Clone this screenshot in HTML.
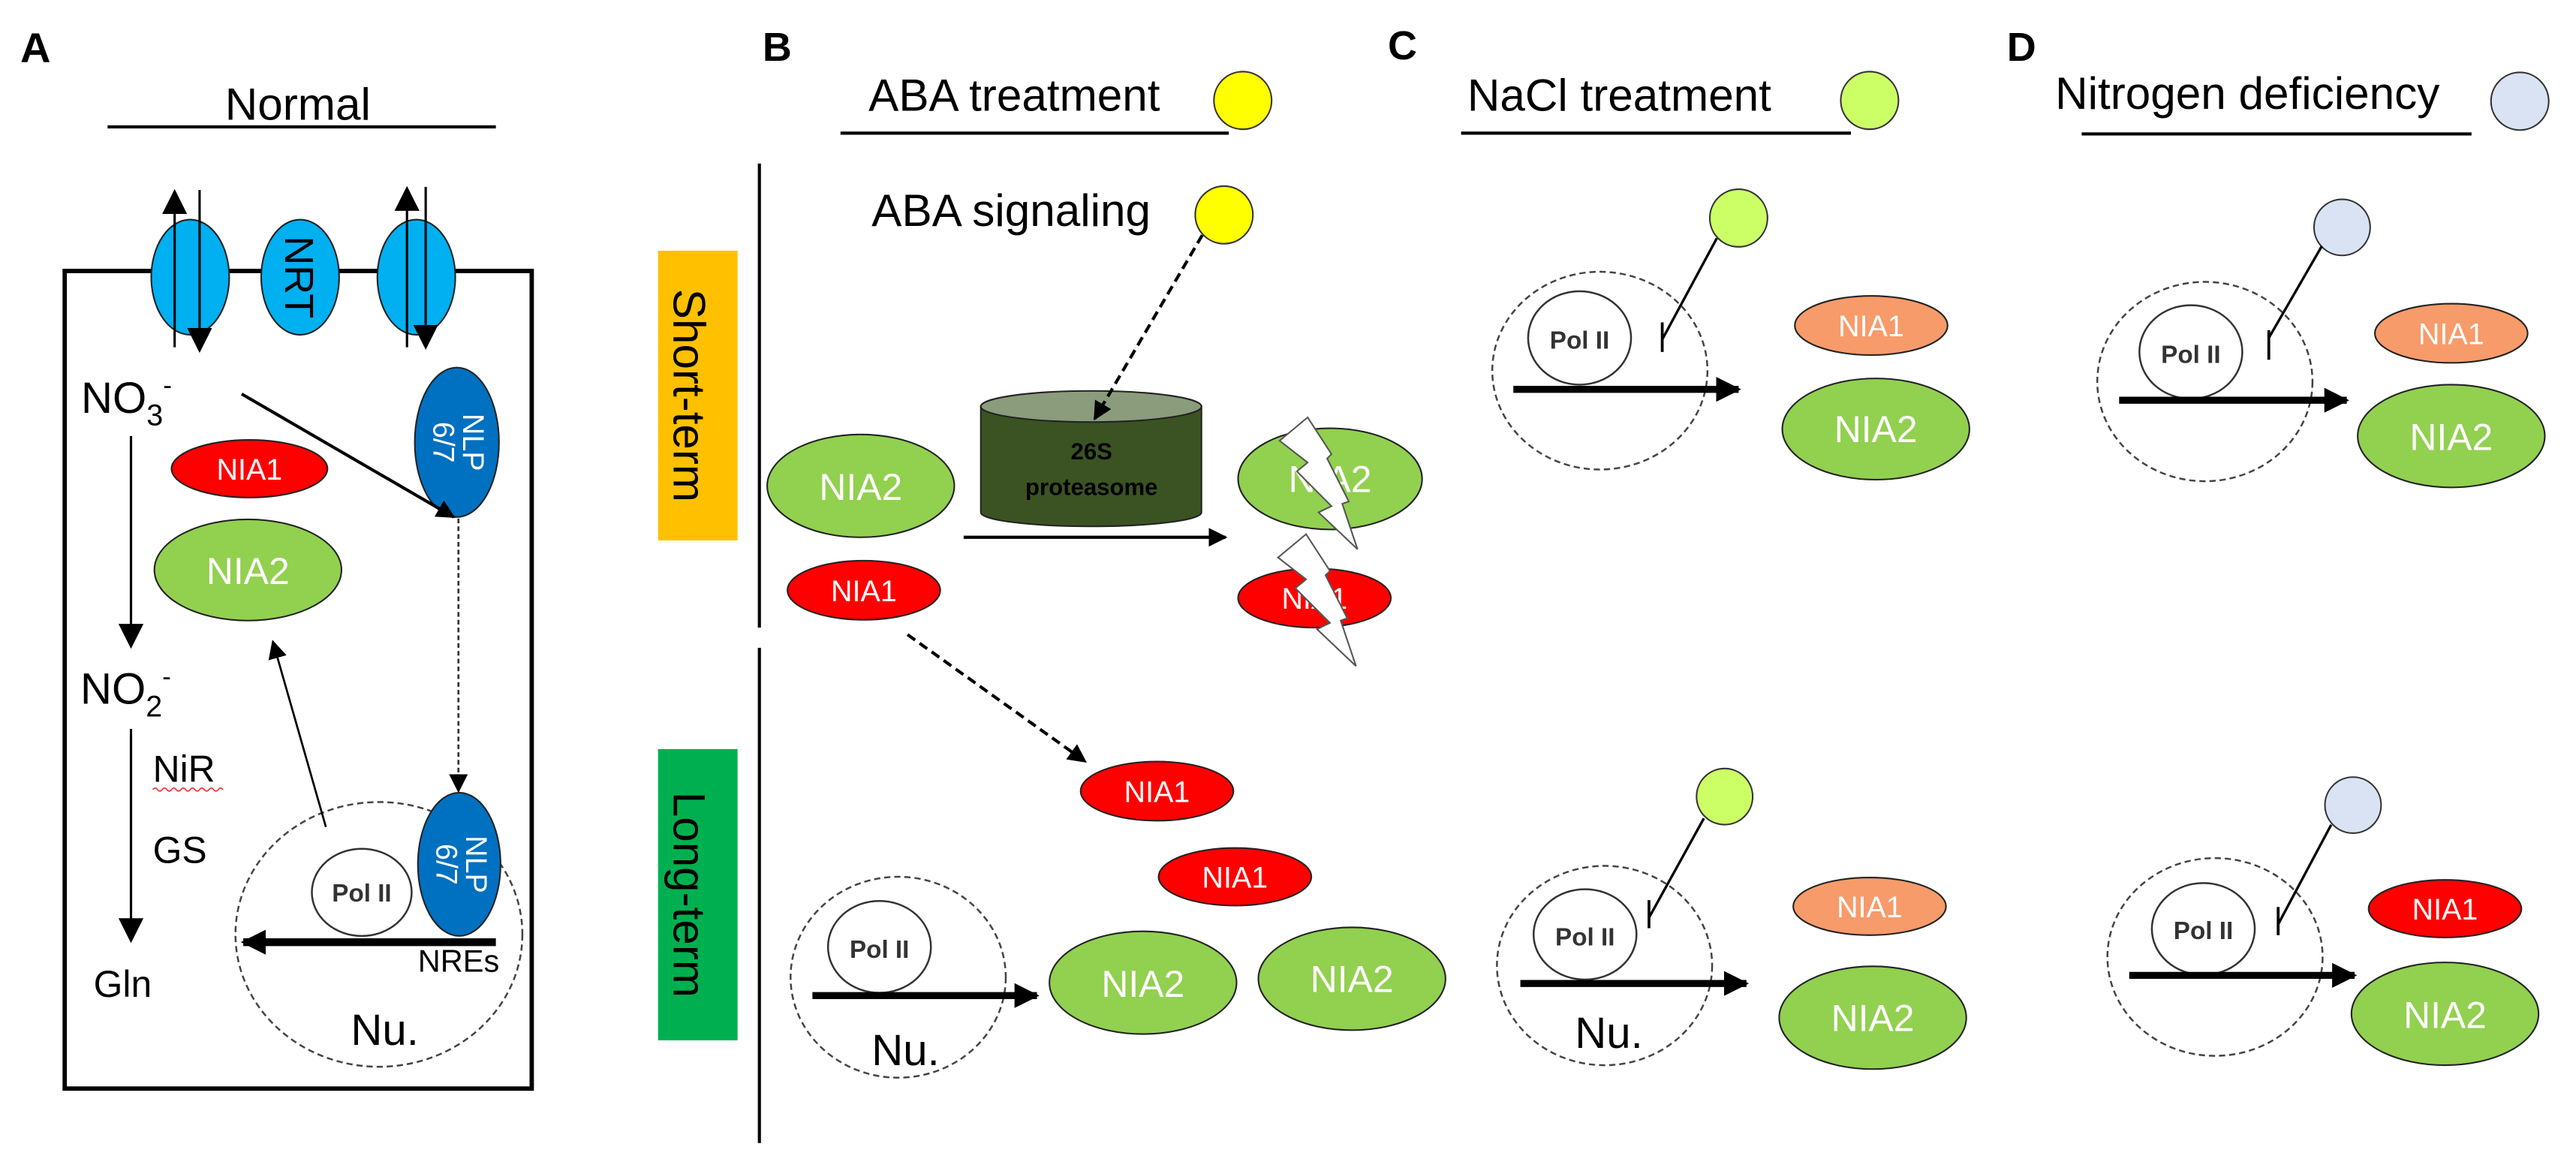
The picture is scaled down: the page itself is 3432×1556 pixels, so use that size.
<!DOCTYPE html>
<html><head><meta charset="utf-8"><style>
html,body{margin:0;padding:0;background:#fff;}
svg{display:block;}
text{font-family:"Liberation Sans",Arial,sans-serif;}
</style></head><body>
<svg width="3432" height="1556" viewBox="0 0 1652 750" preserveAspectRatio="none" xmlns="http://www.w3.org/2000/svg">
<defs>
<marker id="ahs" viewBox="0 0 10 10" refX="9" refY="5" markerWidth="12" markerHeight="12" orient="auto" markerUnits="userSpaceOnUse"><path d="M0,0 L10,5 L0,10 z" fill="#000"/></marker>
<marker id="aht" viewBox="0 0 10 10" refX="9" refY="5" markerWidth="16" markerHeight="17" orient="auto" markerUnits="userSpaceOnUse"><path d="M0,0 L10,5 L0,10 z" fill="#000"/></marker>
<marker id="ahb" viewBox="0 0 10 10" refX="9" refY="5" markerWidth="16" markerHeight="16" orient="auto" markerUnits="userSpaceOnUse"><path d="M0,0 L10,5 L0,10 z" fill="#000"/></marker>
</defs>

<!-- Panel A -->
<text x="13" y="40" font-size="27" font-weight="bold">A</text>
<text x="191" y="77" font-size="29" text-anchor="middle">Normal</text>
<line x1="69" y1="81.5" x2="318" y2="81.5" stroke="#000" stroke-width="2"/>
<rect x="41.5" y="174" width="299.5" height="525" fill="none" stroke="#000" stroke-width="2.8"/>
<ellipse cx="122" cy="178" rx="25" ry="37" fill="#00b0f0" stroke="#222" stroke-width="1"/>
<ellipse cx="192.5" cy="178" rx="25" ry="37" fill="#00b0f0" stroke="#222" stroke-width="1"/>
<ellipse cx="267" cy="178" rx="25" ry="37" fill="#00b0f0" stroke="#222" stroke-width="1"/>
<text font-size="26" transform="translate(183,178) rotate(90)" text-anchor="middle">NRT</text>
<line x1="112" y1="223" x2="112" y2="123" stroke="#000" stroke-width="1.5" marker-end="url(#aht)"/>
<line x1="128" y1="122" x2="128" y2="225" stroke="#000" stroke-width="1.5" marker-end="url(#aht)"/>
<line x1="261" y1="223" x2="261" y2="121" stroke="#000" stroke-width="1.5" marker-end="url(#aht)"/>
<line x1="273" y1="120" x2="273" y2="223" stroke="#000" stroke-width="1.5" marker-end="url(#aht)"/>
<text x="52" y="265" font-size="28">NO<tspan font-size="19" dy="8">3</tspan><tspan font-size="17" dy="-20">-</tspan></text>
<ellipse cx="293" cy="284" rx="27" ry="48" fill="#0070c0" stroke="#222" stroke-width="1"/>
<text font-size="19" fill="#fff" transform="translate(297,284) rotate(90)" text-anchor="middle">NLP</text>
<text font-size="19" fill="#fff" transform="translate(278,284) rotate(90)" text-anchor="middle">6/7</text>
<line x1="155" y1="253" x2="291" y2="332" stroke="#000" stroke-width="2" marker-end="url(#ahs)"/>
<ellipse cx="160" cy="301" rx="50" ry="18.5" fill="#ff0000" stroke="#222" stroke-width="1"/>
<text x="160" y="308" font-size="19" fill="#fff" text-anchor="middle">NIA1</text>
<ellipse cx="159" cy="366" rx="60" ry="32.5" fill="#92d050" stroke="#222" stroke-width="1"/>
<text x="159" y="375" font-size="24" fill="#fff" text-anchor="middle">NIA2</text>
<line x1="294" y1="333" x2="294" y2="508" stroke="#333" stroke-width="1.3" stroke-dasharray="3,2" marker-end="url(#ahs)"/>
<line x1="84" y1="280" x2="84" y2="415" stroke="#000" stroke-width="1.5" marker-end="url(#aht)"/>
<text x="51.5" y="452" font-size="28">NO<tspan font-size="19" dy="8">2</tspan><tspan font-size="17" dy="-20">-</tspan></text>
<line x1="84" y1="468" x2="84" y2="604" stroke="#000" stroke-width="1.5" marker-end="url(#aht)"/>
<text x="98" y="502" font-size="24">NiR</text>
<path d="M98,507 q1.5,-2 3,0 t3,0 t3,0 t3,0 t3,0 t3,0 t3,0 t3,0 t3,0 t3,0 t3,0 t3,0 t3,0 t3,0 t3,0" stroke="#e33" fill="none" stroke-width="0.8"/>
<text x="98" y="554" font-size="24">GS</text>
<text x="60" y="640" font-size="24">Gln</text>
<ellipse cx="243" cy="600" rx="92" ry="85" fill="none" stroke="#444" stroke-width="1.2" stroke-dasharray="4,2.5"/>
<ellipse cx="232" cy="573" rx="32" ry="28" fill="#fff" stroke="#333" stroke-width="1.2"/>
<text x="232" y="579" font-size="16" font-weight="bold" fill="#333" text-anchor="middle">Pol II</text>
<ellipse cx="294.5" cy="555" rx="26.5" ry="46" fill="#0070c0" stroke="#222" stroke-width="1"/>
<text font-size="19" fill="#fff" transform="translate(299,555) rotate(90)" text-anchor="middle">NLP</text>
<text font-size="19" fill="#fff" transform="translate(280,555) rotate(90)" text-anchor="middle">6/7</text>
<line x1="318" y1="605" x2="156" y2="605" stroke="#000" stroke-width="5" marker-end="url(#ahb)"/>
<text x="268" y="624" font-size="20">NREs</text>
<text x="225" y="671" font-size="28">Nu.</text>
<line x1="209" y1="531" x2="175" y2="412" stroke="#000" stroke-width="1.3" marker-end="url(#ahs)"/>

<!-- Left labels -->
<rect x="422" y="161" width="51" height="186" fill="#ffc000"/>
<text font-size="29" transform="translate(432,254) rotate(90)" text-anchor="middle">Short-term</text>
<rect x="422" y="481" width="51" height="187" fill="#00b050"/>
<text font-size="29" transform="translate(432,574.5) rotate(90)" text-anchor="middle">Long-term</text>

<!-- Panel B -->
<text x="489" y="39" font-size="26" font-weight="bold">B</text>
<text x="557" y="71" font-size="29">ABA treatment</text>
<line x1="539" y1="85.5" x2="788" y2="85.5" stroke="#000" stroke-width="2"/>
<circle cx="797" cy="64.5" r="18.5" fill="#ffff00" stroke="#333" stroke-width="1"/>
<line x1="487" y1="105" x2="487" y2="403" stroke="#000" stroke-width="2"/>
<line x1="487" y1="416" x2="487" y2="734" stroke="#000" stroke-width="2"/>
<text x="559" y="145" font-size="29">ABA signaling</text>
<circle cx="785" cy="138" r="18.5" fill="#ffff00" stroke="#333" stroke-width="1"/>
<path d="M629,261 L629,329 A70.75,9 0 0 0 770.5,329 L770.5,261 Z" fill="#3b5323" stroke="#222" stroke-width="1"/>
<ellipse cx="699.75" cy="261" rx="70.75" ry="10" fill="#8a9c7c" stroke="#222" stroke-width="1"/>
<line x1="771" y1="151" x2="702" y2="269" stroke="#000" stroke-width="2" stroke-dasharray="6,3.5" marker-end="url(#ahs)"/>
<text x="700" y="295" font-size="15" font-weight="bold" text-anchor="middle">26S</text>
<text x="700" y="318" font-size="15" font-weight="bold" text-anchor="middle">proteasome</text>
<ellipse cx="552" cy="312" rx="60" ry="33" fill="#92d050" stroke="#222" stroke-width="1"/>
<text x="552" y="321" font-size="24" fill="#fff" text-anchor="middle">NIA2</text>
<ellipse cx="554" cy="379" rx="49" ry="19" fill="#ff0000" stroke="#222" stroke-width="1"/>
<text x="554" y="386" font-size="19" fill="#fff" text-anchor="middle">NIA1</text>
<line x1="618" y1="345" x2="786" y2="345" stroke="#000" stroke-width="2" marker-end="url(#ahs)"/>
<ellipse cx="853" cy="307.5" rx="59" ry="32.5" fill="#92d050" stroke="#222" stroke-width="1"/>
<text x="853" y="316" font-size="24" fill="#fff" text-anchor="middle">NIA2</text>
<ellipse cx="843" cy="384" rx="49" ry="19" fill="#ff0000" stroke="#222" stroke-width="1"/>
<text x="843" y="391" font-size="19" fill="#fff" text-anchor="middle">NIA1</text>
<polygon points="838.6,268 820.6,283 838.6,297 831.7,302.7 853.9,325 845.6,329 870.6,352.7 860.8,323.5 865,322 851.1,294.4 853.9,291.6" fill="#fff" stroke="#555" stroke-width="1"/>
<polygon points="837.6,343 819.6,358 837.6,372 830.7,377.7 852.9,400 844.6,404 869.6,427.7 859.8,398.5 864,397 850.1,369.4 852.9,366.6" fill="#fff" stroke="#555" stroke-width="1"/>
<line x1="582" y1="407.5" x2="696" y2="489" stroke="#000" stroke-width="2" stroke-dasharray="6,3.5" marker-end="url(#ahs)"/>
<ellipse cx="742" cy="508" rx="49" ry="19" fill="#ff0000" stroke="#222" stroke-width="1"/>
<text x="742" y="515" font-size="19" fill="#fff" text-anchor="middle">NIA1</text>
<ellipse cx="792" cy="563" rx="49" ry="18.5" fill="#ff0000" stroke="#222" stroke-width="1"/>
<text x="792" y="570" font-size="19" fill="#fff" text-anchor="middle">NIA1</text>
<ellipse cx="733" cy="631" rx="60" ry="33" fill="#92d050" stroke="#222" stroke-width="1"/>
<text x="733" y="640" font-size="24" fill="#fff" text-anchor="middle">NIA2</text>
<ellipse cx="867" cy="628.5" rx="60" ry="33" fill="#92d050" stroke="#222" stroke-width="1"/>
<text x="867" y="637" font-size="24" fill="#fff" text-anchor="middle">NIA2</text>
<ellipse cx="576" cy="627.5" rx="69" ry="64.5" fill="none" stroke="#444" stroke-width="1.2" stroke-dasharray="4,2.5"/>
<ellipse cx="564" cy="608" rx="33" ry="29.5" fill="#fff" stroke="#333" stroke-width="1.2"/>
<text x="564" y="615" font-size="16" font-weight="bold" fill="#333" text-anchor="middle">Pol II</text>
<line x1="521" y1="639.3" x2="665" y2="639.3" stroke="#000" stroke-width="4.5" marker-end="url(#ahb)"/>
<text x="559" y="684" font-size="28">Nu.</text>

<!-- Panel C -->
<text x="890" y="38" font-size="26" font-weight="bold">C</text>
<text x="941" y="71" font-size="29">NaCl treatment</text>
<line x1="937" y1="85.5" x2="1187" y2="85.5" stroke="#000" stroke-width="2"/>
<circle cx="1199" cy="64.5" r="18.5" fill="#ccff66" stroke="#333" stroke-width="1"/>
<circle cx="1115" cy="140" r="18.5" fill="#ccff66" stroke="#333" stroke-width="1"/>
<line x1="1101" y1="153" x2="1066" y2="218" stroke="#000" stroke-width="1.6"/>
<line x1="1066" y1="207" x2="1066" y2="226" stroke="#000" stroke-width="1.8"/>
<ellipse cx="1026" cy="238" rx="69" ry="63.5" fill="none" stroke="#444" stroke-width="1.2" stroke-dasharray="4,2.5"/>
<ellipse cx="1013" cy="217" rx="33" ry="30" fill="#fff" stroke="#333" stroke-width="1.2"/>
<text x="1013" y="224" font-size="16" font-weight="bold" fill="#333" text-anchor="middle">Pol II</text>
<line x1="970.5" y1="250" x2="1115" y2="250" stroke="#000" stroke-width="4.5" marker-end="url(#ahb)"/>
<ellipse cx="1200" cy="209" rx="49" ry="19" fill="#f79b6a" stroke="#222" stroke-width="1"/>
<text x="1200" y="216" font-size="19" fill="#fff" text-anchor="middle">NIA1</text>
<ellipse cx="1203" cy="275.5" rx="60" ry="32.5" fill="#92d050" stroke="#222" stroke-width="1"/>
<text x="1203" y="284" font-size="24" fill="#fff" text-anchor="middle">NIA2</text>

<circle cx="1106" cy="511.5" r="18" fill="#ccff66" stroke="#333" stroke-width="1"/>
<line x1="1092.7" y1="525.5" x2="1057.5" y2="589.3" stroke="#000" stroke-width="1.6"/>
<line x1="1057.5" y1="578" x2="1057.5" y2="596" stroke="#000" stroke-width="1.8"/>
<ellipse cx="1029" cy="620" rx="69" ry="64" fill="none" stroke="#444" stroke-width="1.2" stroke-dasharray="4,2.5"/>
<ellipse cx="1016.5" cy="600" rx="33" ry="29" fill="#fff" stroke="#333" stroke-width="1.2"/>
<text x="1016.5" y="607" font-size="16" font-weight="bold" fill="#333" text-anchor="middle">Pol II</text>
<line x1="975" y1="631.5" x2="1120" y2="631.5" stroke="#000" stroke-width="4.5" marker-end="url(#ahb)"/>
<text x="1010" y="673" font-size="28">Nu.</text>
<ellipse cx="1199" cy="582" rx="49" ry="18.5" fill="#f79b6a" stroke="#222" stroke-width="1"/>
<text x="1199" y="589" font-size="19" fill="#fff" text-anchor="middle">NIA1</text>
<ellipse cx="1201" cy="653.5" rx="60" ry="33" fill="#92d050" stroke="#222" stroke-width="1"/>
<text x="1201" y="662" font-size="24" fill="#fff" text-anchor="middle">NIA2</text>

<!-- Panel D -->
<text x="1287" y="39" font-size="26" font-weight="bold">D</text>
<text x="1318" y="70" font-size="29">Nitrogen deficiency</text>
<line x1="1335" y1="86" x2="1585" y2="86" stroke="#000" stroke-width="2"/>
<circle cx="1616" cy="65" r="18.5" fill="#dae3f3" stroke="#333" stroke-width="1"/>
<circle cx="1502" cy="146" r="18" fill="#dae3f3" stroke="#333" stroke-width="1"/>
<line x1="1489" y1="158" x2="1455" y2="217" stroke="#000" stroke-width="1.6"/>
<line x1="1455" y1="212" x2="1455" y2="231" stroke="#000" stroke-width="1.8"/>
<ellipse cx="1414" cy="245" rx="69" ry="64" fill="none" stroke="#444" stroke-width="1.2" stroke-dasharray="4,2.5"/>
<ellipse cx="1405" cy="226" rx="33" ry="30" fill="#fff" stroke="#333" stroke-width="1.2"/>
<text x="1405" y="233" font-size="16" font-weight="bold" fill="#333" text-anchor="middle">Pol II</text>
<line x1="1359" y1="257" x2="1505" y2="257" stroke="#000" stroke-width="4.5" marker-end="url(#ahb)"/>
<ellipse cx="1572" cy="214" rx="49" ry="19" fill="#f79b6a" stroke="#222" stroke-width="1"/>
<text x="1572" y="221" font-size="19" fill="#fff" text-anchor="middle">NIA1</text>
<ellipse cx="1572" cy="280" rx="60" ry="33" fill="#92d050" stroke="#222" stroke-width="1"/>
<text x="1572" y="289" font-size="24" fill="#fff" text-anchor="middle">NIA2</text>

<circle cx="1509" cy="517" r="18" fill="#dae3f3" stroke="#333" stroke-width="1"/>
<line x1="1495" y1="529.6" x2="1461" y2="593.5" stroke="#000" stroke-width="1.6"/>
<line x1="1461" y1="582.4" x2="1461" y2="600.5" stroke="#000" stroke-width="1.8"/>
<ellipse cx="1420.5" cy="614.5" rx="69" ry="63.5" fill="none" stroke="#444" stroke-width="1.2" stroke-dasharray="4,2.5"/>
<ellipse cx="1413" cy="596.5" rx="33" ry="29.5" fill="#fff" stroke="#333" stroke-width="1.2"/>
<text x="1413" y="603" font-size="16" font-weight="bold" fill="#333" text-anchor="middle">Pol II</text>
<line x1="1365.5" y1="626.3" x2="1510" y2="626.3" stroke="#000" stroke-width="4.5" marker-end="url(#ahb)"/>
<ellipse cx="1568" cy="583.5" rx="49" ry="18.5" fill="#ff0000" stroke="#222" stroke-width="1"/>
<text x="1568" y="590.5" font-size="19" fill="#fff" text-anchor="middle">NIA1</text>
<ellipse cx="1568" cy="651" rx="60" ry="33" fill="#92d050" stroke="#222" stroke-width="1"/>
<text x="1568" y="660" font-size="24" fill="#fff" text-anchor="middle">NIA2</text>
</svg>
</body></html>
